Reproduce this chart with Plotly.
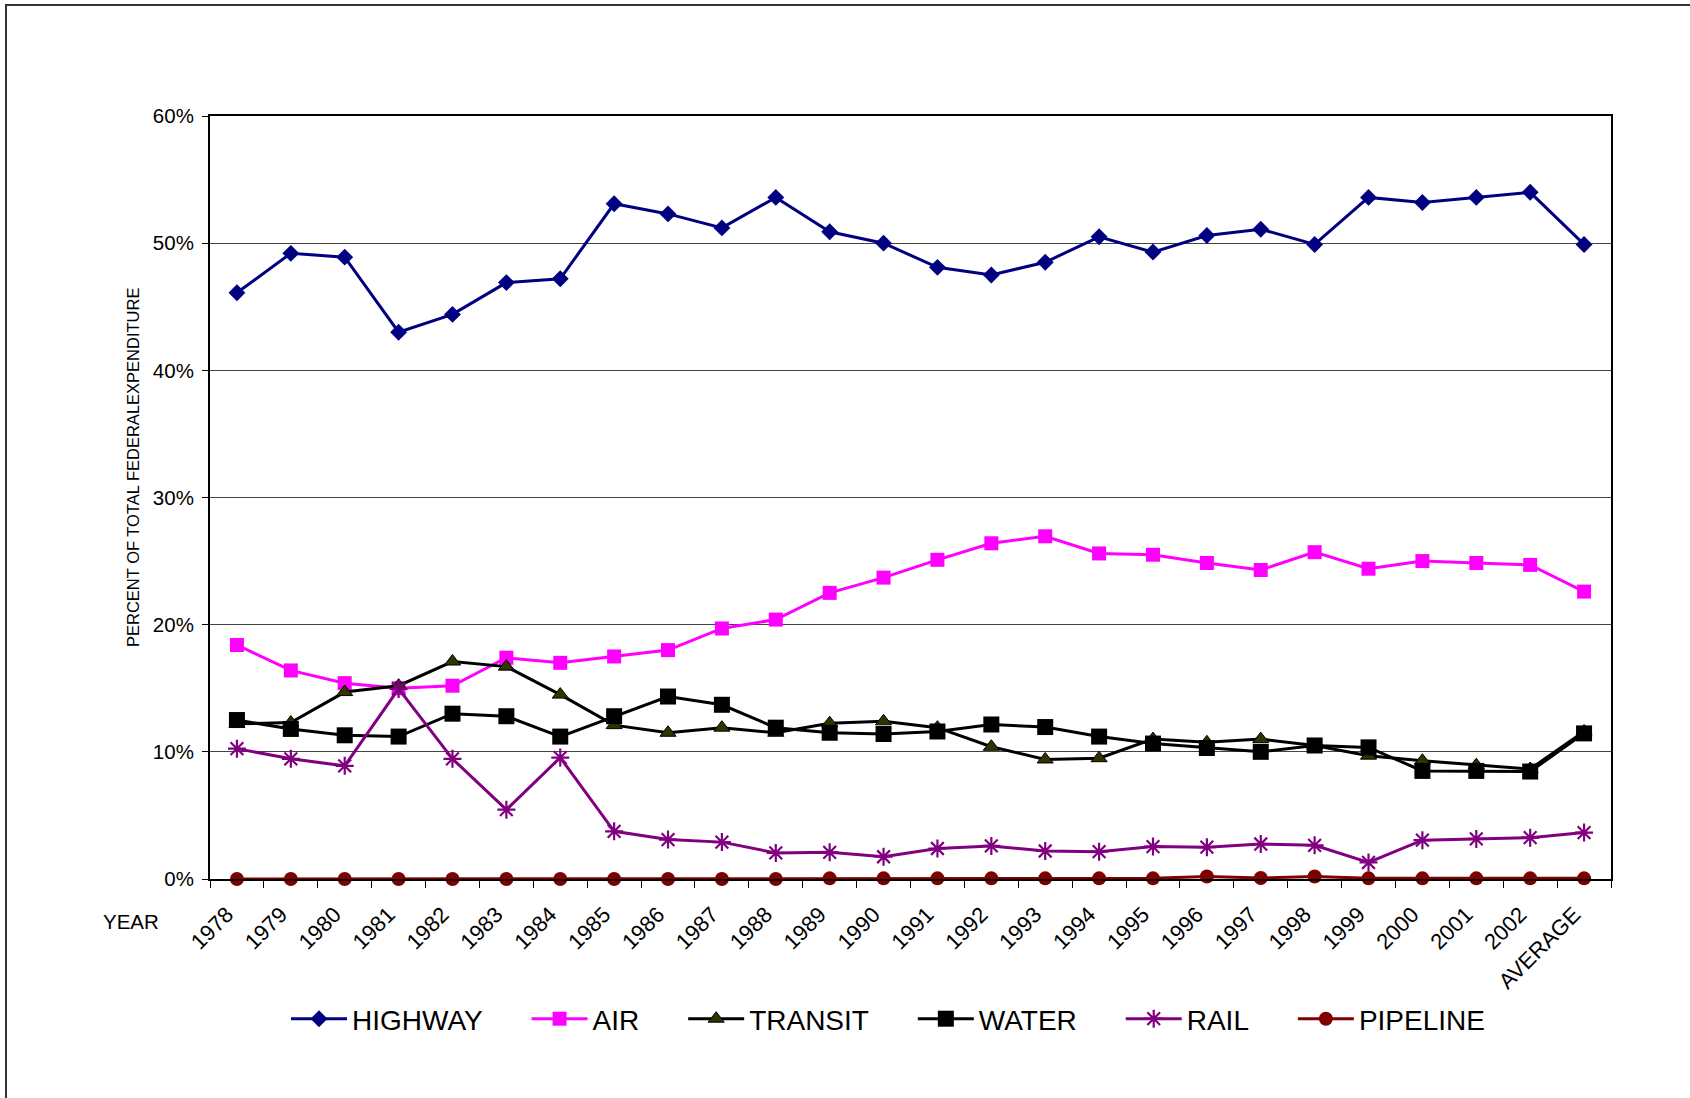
import plotly.graph_objects as go

# Share of total federal transportation expenditure by mode, in percent
years = ["1978", "1979", "1980", "1981", "1982", "1983", "1984", "1985", "1986",
         "1987", "1988", "1989", "1990", "1991", "1992", "1993", "1994", "1995",
         "1996", "1997", "1998", "1999", "2000", "2001", "2002", "AVERAGE"]

highway = [46.1, 49.2, 48.9, 43.0, 44.4, 46.9, 47.2, 53.1, 52.3, 51.2, 53.6, 50.9,
           50.0, 48.1, 47.5, 48.5, 50.5, 49.3, 50.6, 51.1, 49.9, 53.6, 53.2, 53.6,
           54.0, 49.9]
air = [18.4, 16.4, 15.4, 15.0, 15.2, 17.4, 17.0, 17.5, 18.0, 19.7, 20.4, 22.5,
       23.7, 25.1, 26.4, 26.95, 25.6, 25.5, 24.85, 24.3, 25.7, 24.4, 25.0, 24.85,
       24.7, 22.6]
transit = [12.2, 12.3, 14.7, 15.2, 17.1, 16.7, 14.5, 12.1, 11.5, 11.9, 11.5, 12.25,
           12.4, 11.9, 10.4, 9.4, 9.5, 11.0, 10.75, 11.0, 10.5, 9.7, 9.3, 8.95, 8.65,
           11.6]
water = [12.5, 11.8, 11.3, 11.2, 13.0, 12.8, 11.2, 12.8, 14.35, 13.7, 11.9, 11.5,
         11.4, 11.6, 12.15, 11.95, 11.2, 10.65, 10.3, 10.0, 10.5, 10.35, 8.5, 8.5,
         8.45, 11.45]
rail = [10.25, 9.45, 8.9, 14.95, 9.45, 5.45, 9.55, 3.75, 3.1, 2.9, 2.05, 2.1,
        1.75, 2.4, 2.6, 2.2, 2.15, 2.55, 2.5, 2.75, 2.65, 1.3, 3.05, 3.15, 3.25, 3.65]
pipeline = [0.0, 0.0, 0.0, 0.0, 0.0, 0.0, 0.0, 0.0, 0.0, 0.0, 0.0, 0.05, 0.05,
            0.05, 0.05, 0.05, 0.05, 0.05, 0.2, 0.08, 0.2, 0.05, 0.05, 0.05, 0.05,
            0.05]

y_ticks = [0, 10, 20, 30, 40, 50, 60]

FONT = "Liberation Sans, Arial, sans-serif"
PAD = "\u00a0" * 5  # extra room after each legend entry

series = [
    ("HIGHWAY", highway, "#000080", dict(symbol="diamond", size=13, color="#000080")),
    ("AIR", air, "#FF00FF", dict(symbol="square", size=14, color="#FF00FF")),
    ("TRANSIT", transit, "#000000",
     dict(symbol="triangle-up", size=14, color="#333300",
          line=dict(color="#000000", width=1))),
    ("WATER", water, "#000000", dict(symbol="square", size=16, color="#000000")),
    ("RAIL", rail, "#800080",
     dict(symbol="asterisk-open", size=15, color="#800080",
          line=dict(color="#800080", width=2.2))),
    ("PIPELINE", pipeline, "#800000", dict(symbol="circle", size=14, color="#800000")),
]

fig = go.Figure()
for name, vals, lcol, mk in series:
    fig.add_trace(go.Scatter(
        x=years, y=vals, name=name + PAD, mode="lines+markers",
        line=dict(color=lcol, width=3), marker=mk, cliponaxis=False,
    ))

# plot area in pixels: x 210..1611, y 116..879
L, R, T, B = 210, 1611, 116, 879
W, H = 1690, 1098
pw, ph = R - L, B - T


def px_x(p):
    return (p - L) / pw


def px_y(p):
    return (B - p) / ph


fig.update_layout(
    width=W, height=H,
    margin=dict(l=L, r=W - R, t=T, b=H - B),
    paper_bgcolor="white", plot_bgcolor="white",
    font=dict(family=FONT, color="#000000"),
    showlegend=True,
    legend=dict(
        orientation="h", x=px_x(286), xanchor="left", y=px_y(1019), yanchor="middle",
        font=dict(size=28, family=FONT, color="#000000"),
        itemwidth=56,
        bgcolor="rgba(0,0,0,0)", itemclick=False,
    ),
    xaxis=dict(
        type="category", tickmode="array", tickvals=years, ticktext=years,
        tickangle=-45, tickfont=dict(size=22, family=FONT),
        ticks="outside", ticklen=7, tickcolor="#000000", tickson="boundaries",
        ticklabelstandoff=12, ticklabelshift=-10,
        showline=True, linecolor="#000000", linewidth=2, mirror=True,
        showgrid=False, zeroline=False, automargin=False,
        range=[-0.5, len(years) - 0.5],
    ),
    yaxis=dict(
        range=[0, 60], tickvals=y_ticks, ticktext=[f"{v}%" for v in y_ticks],
        tickfont=dict(size=20.5, family=FONT),
        ticks="outside", ticklen=6, tickcolor="#000000", ticklabelstandoff=4,
        showline=True, linecolor="#000000", linewidth=2, mirror=True,
        showgrid=True, gridcolor="#444444", gridwidth=1,
        zeroline=False, automargin=False,
    ),
    annotations=[
        dict(text="PERCENT OF TOTAL FEDERALEXPENDITURE", xref="paper", yref="paper",
             x=px_x(133), y=px_y(468), textangle=-90, showarrow=False,
             font=dict(size=16.5, family=FONT, color="#000000"),
             xanchor="center", yanchor="middle"),
        dict(text="YEAR", xref="paper", yref="paper", x=px_x(131), y=px_y(922),
             showarrow=False, font=dict(size=20.5, family=FONT, color="#000000"),
             xanchor="center", yanchor="middle"),
    ],
    shapes=[
        dict(type="rect", xref="paper", yref="paper",
             x0=px_x(6), x1=px_x(1760), y0=px_y(1160), y1=px_y(5),
             line=dict(color="#333333", width=2), fillcolor="rgba(0,0,0,0)",
             layer="below"),
    ],
)

fig.write_html("out.html")
